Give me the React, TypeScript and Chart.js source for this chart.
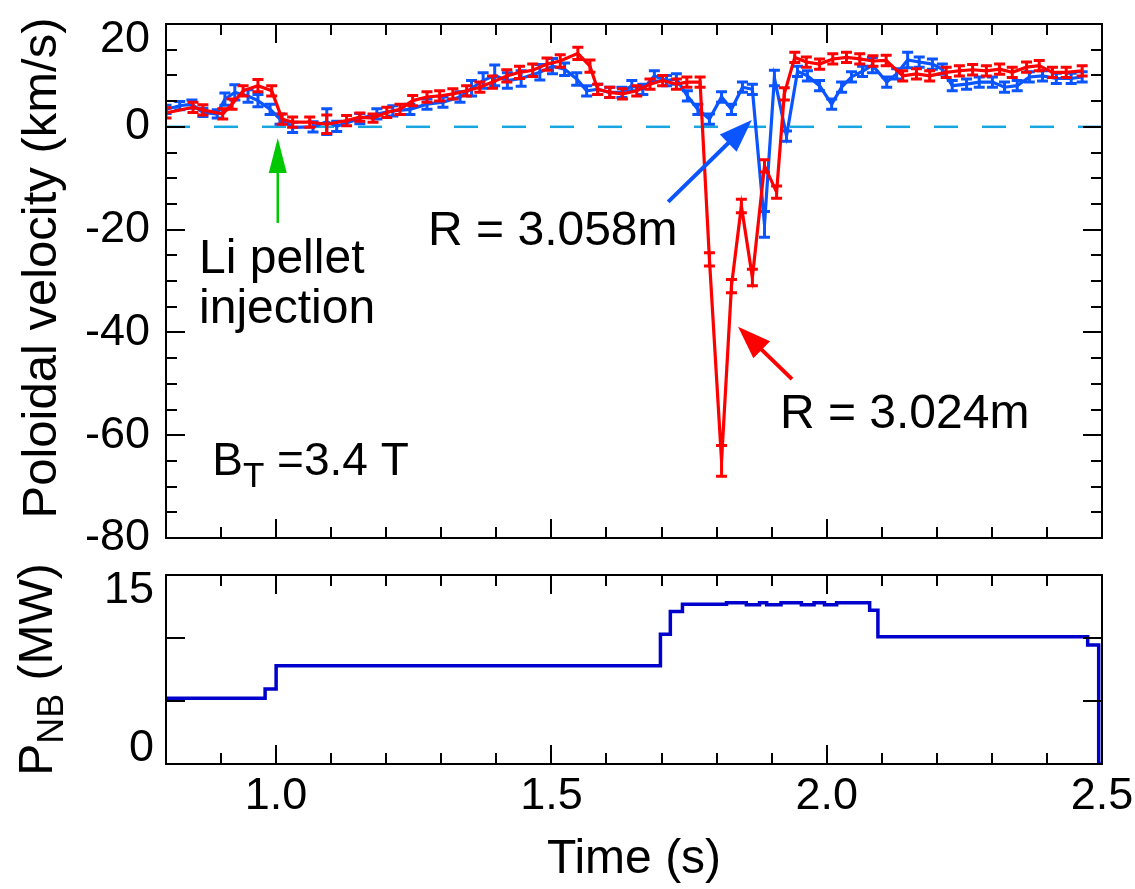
import React, { useEffect, useRef } from 'react';
import { Chart, registerables } from 'chart.js';

Chart.register(...registerables);

const FONT = '"Liberation Sans", Arial, Helvetica, sans-serif';

// ---------- Poloidal velocity, R = 3.024 m (red) ----------
const redTime = [
  0.800, 0.849, 0.867, 0.903, 0.920, 0.940, 0.967, 0.992, 1.011, 1.030,
  1.061, 1.092, 1.128, 1.152, 1.176, 1.201, 1.225, 1.248, 1.274, 1.297,
  1.321, 1.346, 1.370, 1.393, 1.419, 1.442, 1.466, 1.492, 1.516, 1.548,
  1.570, 1.584, 1.606, 1.629, 1.655, 1.679, 1.702, 1.727, 1.746, 1.770,
  1.787, 1.809, 1.827, 1.845, 1.865, 1.887, 1.909, 1.923, 1.942, 1.963,
  1.987, 2.011, 2.036, 2.060, 2.084, 2.108, 2.138, 2.163, 2.187, 2.217,
  2.241, 2.265, 2.290, 2.314, 2.337, 2.363, 2.386, 2.410, 2.435, 2.464,
];
const redVel = [
  2.7, 3.8, 3.3, 2.5, 4.4, 7.0, 8.0, 7.0, 1.5, 0.9,
  0.9, 0.5, 1.2, 1.9, 1.7, 2.8, 3.4, 5.1, 5.8, 6.0,
  6.4, 7.0, 7.7, 8.7, 9.9, 10.6, 11.0, 12.2, 12.8, 14.3,
  11.8, 7.3, 6.7, 6.4, 7.0, 8.3, 9.0, 8.3, 8.7, 8.7,
  -25.8, -65.0, -31.0, -15.4, -29.3, -7.6, -12.7, 6.4, 13.5, 12.6,
  12.2, 13.2, 13.5, 13.2, 12.8, 12.9, 9.9, 10.3, 9.9, 10.6,
  10.9, 11.1, 10.9, 11.2, 10.6, 11.6, 11.9, 10.6, 10.6, 10.9,
];
const redErr = [
  1.0, 1.0, 1.0, 1.0, 1.0, 1.0, 1.2, 1.0, 1.0, 1.0,
  1.0, 1.8, 1.0, 0.8, 0.8, 1.0, 1.0, 1.0, 1.0, 1.0,
  1.0, 1.0, 1.0, 1.2, 1.2, 1.2, 1.2, 1.2, 1.2, 1.2,
  1.2, 1.0, 1.0, 1.0, 1.0, 1.0, 1.0, 1.0, 1.0, 1.0,
  1.3, 3.0, 1.3, 1.3, 1.6, 1.2, 1.2, 1.2, 1.0, 1.0,
  1.0, 1.0, 1.0, 1.0, 1.0, 1.0, 1.0, 1.0, 1.0, 1.0,
  1.0, 1.0, 1.0, 1.0, 1.0, 1.0, 1.0, 1.0, 1.0, 1.0,
];

// ---------- Poloidal velocity, R = 3.058 m (blue) ----------
const blueTime = [
  0.800, 0.825, 0.847, 0.867, 0.893, 0.907, 0.925, 0.949, 0.967, 0.989,
  1.007, 1.030, 1.067, 1.092, 1.110, 1.152, 1.183, 1.212, 1.243, 1.274,
  1.303, 1.334, 1.355, 1.376, 1.397, 1.420, 1.445, 1.479, 1.502, 1.524,
  1.546, 1.564, 1.584, 1.606, 1.628, 1.646, 1.666, 1.687, 1.709, 1.727,
  1.747, 1.766, 1.787, 1.809, 1.827, 1.847, 1.865, 1.887, 1.905, 1.927,
  1.947, 1.965, 1.987, 2.009, 2.027, 2.045, 2.065, 2.083, 2.109, 2.127,
  2.147, 2.168, 2.192, 2.210, 2.228, 2.254, 2.277, 2.301, 2.323, 2.346,
  2.368, 2.392, 2.417, 2.444, 2.464,
];
const blueVel = [
  3.4, 4.1, 4.4, 2.8, 2.5, 5.4, 6.7, 6.0, 5.1, 3.4,
  1.5, -0.1, 0.0, 1.0, 0.1, 1.6, 2.5, 3.1, 3.4, 4.4,
  4.8, 5.8, 7.5, 9.0, 10.0, 9.0, 9.4, 10.6, 11.8, 11.2,
  9.3, 7.0, 7.3, 6.7, 6.7, 8.0, 7.3, 9.9, 9.0, 9.3,
  6.0, 3.4, 1.5, 5.8, 3.4, 7.7, 7.3, -19.0, 9.5, -1.8,
  10.8, 9.9, 8.0, 4.4, 7.7, 9.7, 10.8, 12.0, 8.7, 10.3,
  13.0, 12.6, 12.2, 11.2, 8.0, 8.3, 8.7, 8.7, 7.7, 8.0,
  9.7, 9.9, 9.4, 9.4, 9.7,
];
const blueErr = [
  0.8, 0.8, 0.8, 0.8, 0.8, 1.2, 1.5, 1.2, 1.2, 1.0,
  1.0, 1.0, 1.0, 2.5, 1.0, 1.0, 1.0, 1.0, 1.0, 1.0,
  1.0, 1.0, 1.5, 1.5, 2.0, 1.5, 1.5, 1.5, 1.5, 1.2,
  1.2, 1.0, 1.0, 1.0, 1.0, 1.0, 1.0, 1.0, 1.0, 1.0,
  1.0, 1.0, 1.0, 1.0, 1.0, 1.0, 1.0, 2.5, 1.5, 1.0,
  1.0, 1.0, 1.0, 1.0, 1.0, 1.0, 1.0, 1.5, 1.0, 1.0,
  1.5, 1.0, 1.0, 1.0, 1.0, 1.0, 1.0, 1.0, 1.0, 1.0,
  1.0, 1.0, 1.0, 1.0, 1.0,
];

// ---------- NB power (step trace; value holds until next time) ----------
const nbTime = [
  0.800, 0.980, 1.000, 1.698, 1.716, 1.738, 1.818, 1.854, 1.878, 1.891,
  1.917, 1.954, 1.977, 1.996, 2.018, 2.078, 2.093, 2.474, 2.494, 2.500,
];
const nbPower = [
  5.21, 5.95, 7.80, 10.3, 12.1, 12.67, 12.8, 12.63, 12.8, 12.63,
  12.8, 12.63, 12.8, 12.63, 12.8, 12.2, 10.1, 9.44, 0, 0,
];

// ---------- axes ----------
const timeTickLabels = [1.0, 1.5, 2.0, 2.5];
const timeMinorTicks = [0.9, 1.1, 1.2, 1.3, 1.4, 1.6, 1.7, 1.8, 1.9, 2.1, 2.2, 2.3, 2.4];
const velTickLabels = [-80, -60, -40, -20, 0, 20];
const velMinorTicks = [-75, -70, -65, -55, -50, -45, -35, -30, -25, -15, -10, -5, 5, 10, 15];
const pnbTickLabels = [0, 15];
const pnbTickMarks = [5, 10];

const RED = '#ff0000';
const BLUE = '#0a55ff';
const NBBLUE = '#0000cc';
const GREEN = '#00c800';
const CYAN = '#17a6df';

const frameTicks = {
  id: 'frameTicks',
  afterDatasetsDraw(chart: any, _args: any, opts: any) {
    const { ctx, chartArea: a } = chart;
    const xs = chart.scales.x;
    const ys = chart.scales[opts.yScale || 'y'];
    ctx.save();
    ctx.strokeStyle = '#000';
    ctx.lineWidth = 2;
    ctx.lineCap = 'butt';
    ctx.beginPath();
    const major = 19, minor = 11;
    const xt = (vals: number[], len: number) => {
      for (const v of vals) {
        const p = Math.round(xs.getPixelForValue(v));
        ctx.moveTo(p, a.bottom); ctx.lineTo(p, a.bottom - len);
        ctx.moveTo(p, a.top); ctx.lineTo(p, a.top + len);
      }
    };
    const yt = (vals: number[], len: number) => {
      for (const v of vals) {
        const p = Math.round(ys.getPixelForValue(v));
        ctx.moveTo(a.left, p); ctx.lineTo(a.left + len, p);
        ctx.moveTo(a.right, p); ctx.lineTo(a.right - len, p);
      }
    };
    xt(opts.xMajor || [], major);
    xt(opts.xMinor || [], minor);
    yt(opts.yMajor || [], major);
    yt(opts.yMinor || [], minor);
    ctx.stroke();
    ctx.strokeRect(a.left, a.top, a.right - a.left, a.bottom - a.top);
    ctx.restore();
  },
};

const errorBars = {
  id: 'errorBars',
  afterDatasetDraw(chart: any, args: any) {
    const ds = chart.data.datasets[args.index];
    if (!ds.errors) return;
    const { ctx, chartArea: a } = chart;
    const xs = chart.scales.x, ys = chart.scales.y;
    ctx.save();
    ctx.beginPath();
    ctx.rect(a.left, a.top, a.right - a.left, a.bottom - a.top);
    ctx.clip();
    ctx.strokeStyle = ds.borderColor;
    ctx.lineWidth = 3;
    ctx.beginPath();
    ds.data.forEach((pt: any, i: number) => {
      const e = ds.errors[i];
      const px = xs.getPixelForValue(pt.x);
      const y1 = ys.getPixelForValue(pt.y + e);
      const y2 = ys.getPixelForValue(pt.y - e);
      ctx.moveTo(px, y1); ctx.lineTo(px, y2);
      ctx.moveTo(px - 5.5, y1); ctx.lineTo(px + 5.5, y1);
      ctx.moveTo(px - 5.5, y2); ctx.lineTo(px + 5.5, y2);
    });
    ctx.stroke();
    ctx.restore();
  },
};

function arrow(ctx: CanvasRenderingContext2D, x0: number, y0: number, x1: number, y1: number,
  color: string, lw: number, headLen: number, headHalf: number) {
  const dx = x1 - x0, dy = y1 - y0;
  const L = Math.hypot(dx, dy);
  const ux = dx / L, uy = dy / L;
  const bx = x1 - ux * headLen, by = y1 - uy * headLen;
  ctx.save();
  ctx.strokeStyle = color;
  ctx.fillStyle = color;
  ctx.lineWidth = lw;
  ctx.beginPath();
  ctx.moveTo(x0, y0);
  ctx.lineTo(bx + ux * 2, by + uy * 2);
  ctx.stroke();
  ctx.beginPath();
  ctx.moveTo(x1, y1);
  ctx.lineTo(bx - uy * headHalf, by + ux * headHalf);
  ctx.lineTo(bx + uy * headHalf, by - ux * headHalf);
  ctx.closePath();
  ctx.fill();
  ctx.restore();
}

// annotation anchors in data coordinates (time s, velocity km/s)
const annPellet = { t: 0.860, v1: -28.4, v2: -38.2 };
const annPelletArrow = { t: 1.003, from: -18.7, to: -2.2 };
const annBT = { t: 0.884, v: -67.7 };
const annBlue = { t: 1.276, v: -23.0, from: [1.712, -14.6], to: [1.864, 1.3] };
const annRed = { t: 1.915, v: -58.6, from: [1.937, -49.1], to: [1.839, -38.9] };

const annotations = {
  id: 'annotations',
  afterDraw(chart: any) {
    const { ctx, chartArea: a } = chart;
    const xs = chart.scales.x, ys = chart.scales.y;
    const X = (t: number) => xs.getPixelForValue(t);
    const Y = (v: number) => ys.getPixelForValue(v);
    ctx.save();
    ctx.fillStyle = '#000';
    ctx.textBaseline = 'alphabetic';
    ctx.textAlign = 'left';
    ctx.font = `48px ${FONT}`;
    ctx.fillText('Li pellet', X(annPellet.t), Y(annPellet.v1));
    ctx.fillText('injection', X(annPellet.t), Y(annPellet.v2));
    ctx.fillText('R = 3.058m', X(annBlue.t), Y(annBlue.v));
    ctx.fillText('R = 3.024m', X(annRed.t), Y(annRed.v));
    // B_T = 3.4 T
    ctx.font = `46px ${FONT}`;
    let x = X(annBT.t);
    const yb = Y(annBT.v);
    ctx.fillText('B', x, yb);
    x += ctx.measureText('B').width;
    ctx.font = `35px ${FONT}`;
    ctx.fillText('T', x, yb + 12);
    x += ctx.measureText('T').width;
    ctx.font = `46px ${FONT}`;
    ctx.fillText(' =3.4 T', x, yb);

    // y-axis title
    ctx.translate(56, (a.top + a.bottom) / 2 - 13);
    ctx.rotate(-Math.PI / 2);
    ctx.textAlign = 'center';
    ctx.font = `49px ${FONT}`;
    ctx.fillText('Poloidal velocity (km/s)', 0, 0);
    ctx.restore();

    arrow(ctx, X(annPelletArrow.t), Y(annPelletArrow.from), X(annPelletArrow.t), Y(annPelletArrow.to), GREEN, 2.5, 35, 9);
    arrow(ctx, X(annBlue.from[0]), Y(annBlue.from[1]), X(annBlue.to[0]), Y(annBlue.to[1]), BLUE, 4, 33, 12);
    arrow(ctx, X(annRed.from[0]), Y(annRed.from[1]), X(annRed.to[0]), Y(annRed.to[1]), RED, 4, 33, 12);
  },
};

const pnbTitle = {
  id: 'pnbTitle',
  afterDraw(chart: any) {
    const { ctx, chartArea: a } = chart;
    const cy = (a.top + a.bottom) / 2;
    const big = `48px ${FONT}`, small = `36px ${FONT}`;
    ctx.save();
    ctx.font = big;
    const wP = ctx.measureText('P').width;
    const wRest = ctx.measureText(' (MW)').width;
    ctx.font = small;
    const wNB = ctx.measureText('NB').width;
    const total = wP + wNB + wRest;
    ctx.translate(52, cy + total / 2);
    ctx.rotate(-Math.PI / 2);
    ctx.fillStyle = '#000';
    ctx.textBaseline = 'alphabetic';
    ctx.textAlign = 'left';
    ctx.font = big;
    ctx.fillText('P', 0, 0);
    ctx.font = small;
    ctx.fillText('NB', wP, 11);
    ctx.font = big;
    ctx.fillText(' (MW)', wP + wNB, 0);
    ctx.restore();
  },
};

const tickFont = { family: FONT, size: 45 };

const fitY = (s: any) => { s.width = 166; s.paddingTop = 0; s.paddingBottom = 0; };

export default function App() {
  const topRef = useRef<HTMLCanvasElement>(null);
  const botRef = useRef<HTMLCanvasElement>(null);

  useEffect(() => {
    const top = new Chart(topRef.current as HTMLCanvasElement, {
      type: 'line',
      data: {
        datasets: [
          {
            label: 'R = 3.024m',
            data: redTime.map((t, i) => ({ x: t, y: redVel[i] })),
            borderColor: RED,
            borderWidth: 3.2,
            pointRadius: 0,
            tension: 0,
            errors: redErr,
          } as any,
          {
            label: 'R = 3.058m',
            data: blueTime.map((t, i) => ({ x: t, y: blueVel[i] })),
            borderColor: BLUE,
            borderWidth: 3.2,
            pointRadius: 0,
            tension: 0,
            errors: blueErr,
          } as any,
          {
            label: 'zero',
            data: [{ x: 0.8, y: 0 }, { x: 2.5, y: 0 }],
            borderColor: CYAN,
            borderWidth: 2.5,
            borderDash: [24, 24],
            pointRadius: 0,
          },
        ],
      },
      options: {
        animation: false,
        responsive: false,
        layout: { padding: { left: 0, right: 33, top: 24, bottom: 22 } },
        plugins: {
          legend: { display: false },
          tooltip: { enabled: false },
          frameTicks: { xMajor: timeTickLabels, xMinor: timeMinorTicks, yMajor: velTickLabels, yMinor: velMinorTicks, yScale: 'y' },
        } as any,
        scales: {
          x: { type: 'linear', min: 0.8, max: 2.5, display: false },
          y: {
            type: 'linear', min: -80, max: 20, position: 'left',
            afterFit: fitY,
            // top label sits just inside the frame, as in the original figure
            afterBuildTicks: (s: any) => { s.ticks = velTickLabels.map((v) => ({ value: v === 20 ? 16.9 : v })); },
            grid: { display: false, drawTicks: false },
            border: { display: false },
            ticks: {
              font: tickFont, color: '#000', padding: 16, autoSkip: false,
              callback: (_v: any, i: number) => String(velTickLabels[i]),
            },
            title: { display: false },
          },
        },
      },
      plugins: [frameTicks, errorBars, annotations],
    } as any);

    const bot = new Chart(botRef.current as HTMLCanvasElement, {
      type: 'line',
      data: {
        datasets: [
          {
            label: 'P_NB',
            data: nbTime.map((t, i) => ({ x: t, y: nbPower[i] })),
            borderColor: NBBLUE,
            borderWidth: 3.5,
            pointRadius: 0,
            stepped: 'before',
            yAxisID: 'y',
          },
        ],
      },
      options: {
        animation: false,
        responsive: false,
        layout: { padding: { left: 0, right: 33, top: 15, bottom: 0 } },
        plugins: {
          legend: { display: false },
          tooltip: { enabled: false },
          frameTicks: { xMajor: timeTickLabels, xMinor: timeMinorTicks, yMajor: pnbTickMarks, yMinor: [], yScale: 'y' },
        } as any,
        scales: {
          x: {
            type: 'linear', min: 0.8, max: 2.5, position: 'bottom',
            afterFit: (s: any) => { s.height = 125; s.paddingLeft = 0; s.paddingRight = 0; },
            afterBuildTicks: (s: any) => { s.ticks = timeTickLabels.map((v) => ({ value: v })); },
            grid: { display: false, drawTicks: false },
            border: { display: false },
            ticks: { font: tickFont, color: '#000', padding: 6, autoSkip: false, maxRotation: 0, callback: (v: any) => Number(v).toFixed(1) },
            title: { display: true, text: 'Time (s)', color: '#000', font: { family: FONT, size: 48 }, padding: { top: 0, bottom: 0 } },
          },
          y: { type: 'linear', min: 0, max: 15, display: false },
          yL: {
            type: 'linear', axis: 'y', position: 'left', min: -1.424, max: 16.52,
            afterFit: fitY,
            afterBuildTicks: (s: any) => { s.ticks = pnbTickLabels.map((v) => ({ value: v })); },
            grid: { display: false, drawTicks: false },
            border: { display: false },
            ticks: { font: tickFont, color: '#000', padding: 12, autoSkip: false },
          },
        },
      },
      plugins: [frameTicks, pnbTitle],
    } as any);

    return () => { top.destroy(); bot.destroy(); };
  }, []);

  return (
    <div style={{ position: 'absolute', left: 0, top: 0, width: 1135, height: 889, background: '#fff' }}>
      <canvas ref={topRef} width={1135} height={560} style={{ position: 'absolute', left: 0, top: 0, display: 'block' }} />
      <canvas ref={botRef} width={1135} height={329} style={{ position: 'absolute', left: 0, top: 560, display: 'block' }} />
    </div>
  );
}
